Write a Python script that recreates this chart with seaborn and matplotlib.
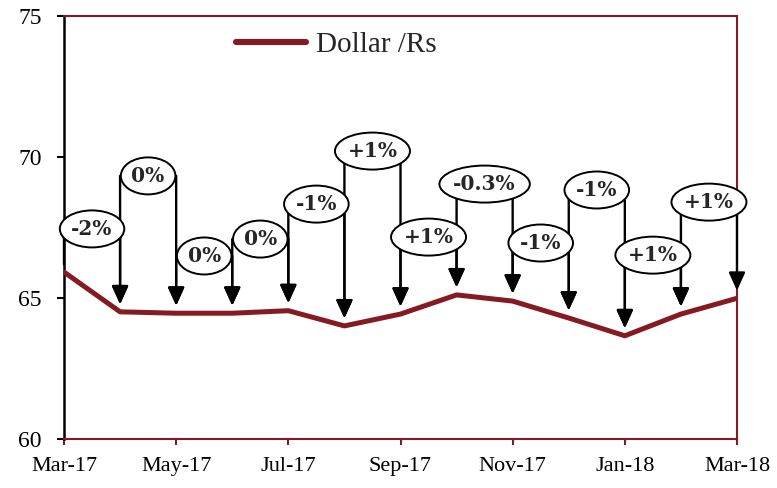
import matplotlib
matplotlib.use("Agg")
import matplotlib.pyplot as plt
from matplotlib.patches import Ellipse
import seaborn as sns
import pandas as pd

# Monthly Dollar/Rs exchange rate, Mar-17 .. Mar-18
months = ["Mar-17", "Apr-17", "May-17", "Jun-17", "Jul-17", "Aug-17", "Sep-17",
          "Oct-17", "Nov-17", "Dec-17", "Jan-18", "Feb-18", "Mar-18"]
rate = [65.92, 64.51, 64.46, 64.46, 64.55, 64.01, 64.43,
        65.11, 64.89, 64.29, 63.66, 64.43, 64.99]

# Month-on-month change shown in each callout
change_labels = ["-2%", "0%", "0%", "0%", "-1%", "+1%", "+1%",
                 "-0.3%", "-1%", "-1%", "+1%", "+1%"]
# Vertical placement of each callout bubble (in axis units)
callout_y = [67.45, 69.33, 66.49, 67.09, 68.33, 70.21, 67.16,
             69.04, 66.95, 68.83, 66.52, 68.40]

tick_months = ["Mar-17", "May-17", "Jul-17", "Sep-17", "Nov-17", "Jan-18", "Mar-18"]

line_color = "#851A22"

sns.set_theme(style="white")
plt.rcParams["font.family"] = ["Liberation Serif", "DejaVu Serif"]

df = pd.DataFrame({"idx": range(len(months)), "rate": rate})

fig = plt.figure(figsize=(7.77, 4.88), dpi=100)
ax = fig.add_axes([64 / 777, 49 / 488, 673 / 777, 423 / 488])

sns.lineplot(data=df, x="idx", y="rate", ax=ax, color=line_color,
             linewidth=3.6, label="Dollar /Rs", zorder=4)

ax.set_xlim(0, len(months) - 1)
ax.set_ylim(60, 75)
ax.set_xlabel("")
ax.set_ylabel("")

tick_pos = [months.index(m) for m in tick_months]
ax.set_xticks(tick_pos)
ax.set_xticklabels(tick_months, fontsize=16, color="black")
ax.set_yticks([60, 65, 70, 75])
ax.set_yticklabels(["60", "65", "70", "75"], fontsize=17, color="black")
ax.tick_params(axis="x", direction="out", length=4, width=1.5,
               color=line_color, pad=9, bottom=True)
ax.tick_params(axis="y", direction="out", length=5, width=1.5,
               color="black", pad=11, left=True)

for side in ["top", "right", "bottom"]:
    ax.spines[side].set_color(line_color)
    ax.spines[side].set_linewidth(1.5)
ax.spines["left"].set_color("black")
ax.spines["left"].set_linewidth(1.8)

# Callouts: a bubble between two months with arrows down to both points
texts = []
for k, (lab, ly) in enumerate(zip(change_labels, callout_y), start=1):
    for i in (k - 1, k):
        style = "-" if i == 0 else "-|>,head_length=1.1,head_width=0.5"
        ax.annotate("", xy=(i, rate[i]), xytext=(i, ly),
                    arrowprops=dict(arrowstyle=style, color="black", lw=1.7,
                                    shrinkA=0, shrinkB=5.5, mutation_scale=10),
                    zorder=3, annotation_clip=False)
    t = ax.text(k - 0.5, ly, lab, ha="center", va="center", fontsize=14.5,
                fontweight="bold", family="DejaVu Serif", zorder=6)
    texts.append((t, k, ly))

# Size each bubble around its text
fig.canvas.draw()
renderer = fig.canvas.get_renderer()
px_per_x = ax.bbox.width / (len(months) - 1)
px_per_y = ax.bbox.height / 15
for t, k, ly in texts:
    tw = t.get_window_extent(renderer).width
    ew = 1.22 * tw + 14
    eh = 37
    ax.add_patch(Ellipse((k - 0.5, ly), ew / px_per_x, eh / px_per_y,
                         facecolor="white", edgecolor="black", lw=1.4,
                         zorder=5, clip_on=False))

leg = ax.legend(loc="upper left", bbox_to_anchor=((236 - 64) / 673, 0.962),
                frameon=False, fontsize=21, handlelength=2.4,
                handletextpad=0.35, borderpad=0, borderaxespad=0)
for h in leg.get_lines():
    h.set_linewidth(4.4)

fig.savefig("out.png", dpi=100)
